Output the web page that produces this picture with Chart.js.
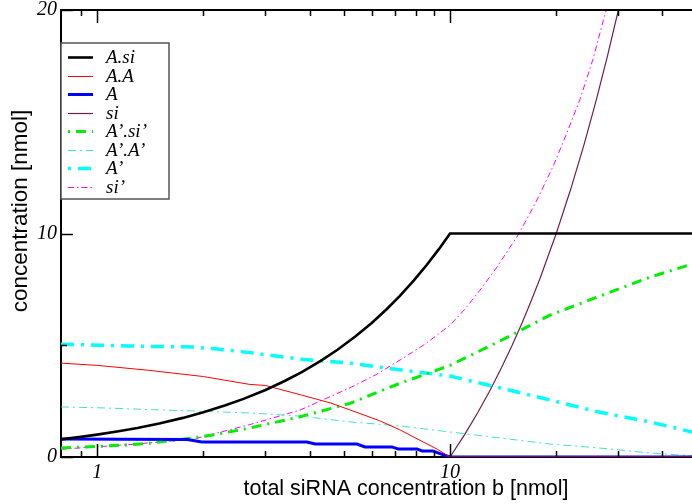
<!DOCTYPE html>
<html>
<head>
<meta charset="utf-8">
<script src="https://cdn.jsdelivr.net/npm/chart.js@4/dist/chart.umd.min.js"></script>
<style>
  html, body { margin: 0; padding: 0; background: #fff; }
  #box { width: 692px; height: 504px; }
</style>
</head>
<body>
<div id="box"><canvas id="myChart"></canvas></div>
<script>
// total siRNA b [nmol] for each curve
let bBlack = [0.79, 0.9, 1, 1.15, 1.3, 1.5, 1.75, 2, 2.3, 2.6, 3, 3.4, 3.8, 4.3, 4.8, 5.4, 6, 6.6, 7.2, 7.9, 8.6, 9.3, 10, 48.5];
let bRed = [0.79, 1, 1.4, 2, 2.7, 3, 3.8, 4.6, 5.2, 6.3, 7.2, 8.4, 9.2, 10, 48.5];
let bBlue = [0.79, 1.8, 1.98, 3.93, 4.15, 5.45, 5.74, 6.84, 7.13, 8.06, 8.33, 8.94, 9.5, 10, 48.5];
let bSi = [10, 11, 12, 13, 14, 15, 16, 17, 18, 20, 22, 24, 26, 28, 30, 32, 34];
let bGrid = [0.79, 1.02, 1.22, 1.41, 1.87, 2.19, 2.71, 3.76, 5.21, 7.22, 10, 13.9, 19.2, 26.6, 36.9, 48.5];
let bMag = [0.79, 1.22, 1.87, 2.71, 3.76, 5.21, 6.2, 7.22, 8.5, 10, 11, 12.17, 13.59, 15.69, 17.64, 19.59, 21.44, 23.35, 25.42, 27.48, 30.3];

// concentrations [nmol]
let aSi = [0.79, 0.9, 1, 1.15, 1.3, 1.5, 1.75, 2, 2.3, 2.6, 3, 3.4, 3.8, 4.3, 4.8, 5.4, 6, 6.6, 7.2, 7.9, 8.6, 9.3, 10, 10];
let aA = [4.2, 4.1, 3.88, 3.6, 3.25, 3.2, 2.77, 2.41, 2.11, 1.63, 1.22, 0.67, 0.35, 0, 0];
let aFree = [0.8, 0.78, 0.67, 0.67, 0.58, 0.58, 0.45, 0.45, 0.36, 0.36, 0.27, 0.27, 0.12, 0, 0];
let siFree = [0, 1, 2, 3, 4, 5, 6, 7, 8, 10, 12, 14, 16, 18, 20, 22, 24];
let apSip = [0.4, 0.48, 0.54, 0.62, 0.85, 1.02, 1.3, 1.8, 2.4, 3.3, 4.1, 5.2, 6.35, 7.2, 8.05, 8.63];
let apAp = [2.24, 2.2, 2.16, 2.12, 2.06, 2.02, 1.97, 1.83, 1.57, 1.39, 1.12, 0.85, 0.58, 0.4, 0.18, 0.05];
let apFree = [5.05, 5.0, 4.97, 4.95, 4.92, 4.83, 4.67, 4.38, 4.2, 3.9, 3.62, 3.09, 2.55, 2.0, 1.57, 1.12];
let sipFree = [0.35, 0.55, 0.8, 1.45, 2.1, 3.1, 3.7, 4.34, 5.05, 5.9, 6.6, 7.47, 8.5, 10, 11.5, 13, 14.5, 16, 17.8, 19.8, 22];

// axis ticks
let xTicks = [0.9, 1, 2, 3, 4, 5, 6, 7, 8, 9, 10, 20, 30, 40];
let xLabels = [1, 10];
let yTicks = [0, 5, 10, 15, 20];
let yLabels = [0, 10, 20];

function pts(xs, ys){
    return xs.map(function(x, i){ return {x: x, y: ys[i]}; });
}

function makeSet(label, xs, ys, color, width, dash, legendOffset){
    return {
        label: label,
        data: pts(xs, ys),
        borderColor: color,
        borderWidth: width,
        borderDash: dash || [],
        legendOffset: legendOffset || 0, // so the legend sample starts with the dot
        showLine: true,
        pointRadius: 0,
        tension: 0,
        fill: false
    };
}

let datasets = [
    makeSet('A.si', bBlack, aSi, '#000000', 2.6),
    makeSet('A.A', bRed, aA, '#ff0000', 1),
    makeSet('A', bBlue, aFree, '#0000ff', 3),
    makeSet('si', bSi, siFree, '#6b1f4f', 1.2),
    makeSet('A\u2019.si\u2019', bGrid, apSip, '#00ee00', 3, [10, 6, 2, 6], 16),
    makeSet('A\u2019.A\u2019', bGrid, apAp, '#40e0d0', 1, [8, 4, 2, 4], 0),
    makeSet('A\u2019', bGrid, apFree, '#00ffff', 3.5, [13, 7, 3, 7], 20),
    makeSet('si\u2019', bMag, sipFree, '#ff00ff', 1, [6, 3, 1.5, 3], 0)
];

// frame, inward ticks, axis titles and the boxed legend
let decor = {
    id: 'decor',
    afterDraw: function(chart){
        let ctx = chart.ctx;
        let area = chart.chartArea;
        let xs = chart.scales.x;
        let ys = chart.scales.y;
        ctx.save();
        ctx.strokeStyle = '#000';
        ctx.lineWidth = 2;
        ctx.beginPath();
        ctx.moveTo(area.left, area.top);
        ctx.lineTo(area.right, area.top);
        ctx.stroke();

        ctx.lineWidth = 1.5;
        xTicks.forEach(function(v){
            let px = Math.round(xs.getPixelForValue(v)) + 0.5;
            let len = xLabels.indexOf(v) >= 0 ? 13 : 6;
            ctx.beginPath();
            ctx.moveTo(px, area.bottom); ctx.lineTo(px, area.bottom - len);
            ctx.moveTo(px, area.top); ctx.lineTo(px, area.top + len);
            ctx.stroke();
        });
        yTicks.forEach(function(v){
            let py = Math.round(ys.getPixelForValue(v)) + 0.5;
            let len = yLabels.indexOf(v) >= 0 ? 12 : 6;
            ctx.beginPath();
            ctx.moveTo(area.left, py); ctx.lineTo(area.left + len, py);
            ctx.stroke();
        });

        ctx.fillStyle = '#000';
        ctx.textAlign = 'center';
        ctx.textBaseline = 'middle';
        ctx.font = "21.5px 'Liberation Sans'";
        ctx.fillText('total siRNA concentration b [nmol]', 406, 489);
        ctx.translate(21, 211);
        ctx.rotate(-Math.PI / 2);
        ctx.font = "22.5px 'Liberation Sans'";
        ctx.fillText('concentration [nmol]', 0, 0);
        ctx.restore();

        // legend
        ctx.save();
        let lx = 61, ly = 43, lw = 108, lh = 156;
        ctx.fillStyle = '#fff';
        ctx.fillRect(lx, ly, lw, lh);
        ctx.strokeStyle = '#555';
        ctx.lineWidth = 1.5;
        ctx.strokeRect(lx, ly, lw, lh);
        chart.data.datasets.forEach(function(ds, i){
            let y = Math.round(57 + i * 18.5) + 0.5;
            ctx.strokeStyle = ds.borderColor;
            ctx.lineWidth = ds.borderWidth;
            ctx.setLineDash(ds.borderDash);
            ctx.lineDashOffset = ds.legendOffset;
            ctx.beginPath();
            ctx.moveTo(68, y); ctx.lineTo(93, y);
            ctx.stroke();
            ctx.setLineDash([]);
            ctx.fillStyle = '#000';
            ctx.font = "italic 19px 'Liberation Serif'";
            ctx.textAlign = 'left';
            ctx.textBaseline = 'middle';
            ctx.fillText(ds.label, 106, y);
        });
        ctx.restore();
    }
};

let config = {
    type: 'scatter',
    data: { datasets: datasets },
    options: {
        responsive: true,
        maintainAspectRatio: false,
        animation: false,
        layout: { padding: { top: 10, right: 0, bottom: 0, left: 0 } },
        plugins: { legend: { display: false }, tooltip: { enabled: false } },
        scales: {
            x: {
                type: 'logarithmic',
                min: 0.79,
                max: 48.5,
                afterFit: function(s){ s.height = 47; s.paddingLeft = 0; s.paddingRight = 0; },
                afterBuildTicks: function(s){
                    s.ticks = xTicks.map(function(v){ return {value: v}; });
                },
                grid: { display: false, drawTicks: false },
                border: { display: true, color: '#000', width: 2 },
                ticks: {
                    autoSkip: false,
                    maxRotation: 0,
                    padding: 4,
                    color: '#000',
                    font: { family: 'Liberation Serif', style: 'italic', size: 20 },
                    callback: function(v){ return xLabels.indexOf(v) >= 0 ? String(v) : ''; }
                }
            },
            y: {
                type: 'linear',
                min: 0,
                max: 20,
                afterFit: function(s){ s.width = 61; s.paddingTop = 0; s.paddingBottom = 0; },
                afterBuildTicks: function(s){
                    s.ticks = yLabels.map(function(v){ return {value: v}; });
                },
                grid: { display: false, drawTicks: false },
                border: { display: true, color: '#000', width: 2 },
                ticks: {
                    padding: 4,
                    color: '#000',
                    font: { family: 'Liberation Serif', style: 'italic', size: 20 }
                }
            }
        }
    },
    plugins: [decor]
};

let myChart = new Chart(document.getElementById('myChart'), config);
</script>
</body>
</html>
